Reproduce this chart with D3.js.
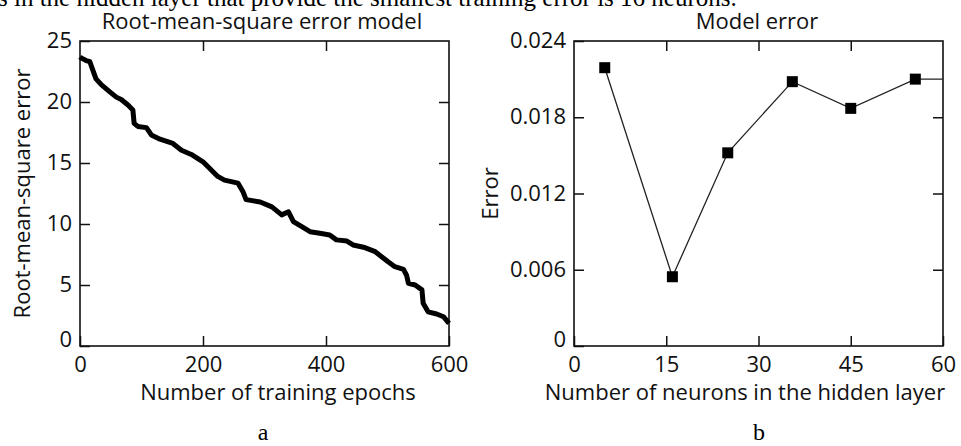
<!DOCTYPE html>
<html>
<head>
<meta charset="utf-8">
<title>RMSE and model error</title>
<script src="https://d3js.org/d3.v7.min.js"></script>
<style>
  body { margin: 0; background: #fff; }
  .lbl { font-family: "Open Sans", Lato, sans-serif; fill: #111; }
  .serif { font-family: "Liberation Serif", "Times New Roman", serif; fill: #000; }
</style>
</head>
<body>
<div id="canvas-1"></div>
<script>

// data for (a) : RMSE vs training epochs
var epochs = [0, 2, 10, 16, 21, 26, 35, 48, 59, 67, 78, 86, 88, 94, 108, 116, 130, 151, 165, 181,
  200, 211, 224, 235, 257, 265, 270, 293, 312, 328, 339, 347, 360, 374, 390, 406, 417, 434, 444, 461,
  480, 491, 501, 512, 526, 531, 534, 545, 556, 558, 566, 580, 591, 600];
var rmse = [23.7, 23.6, 23.4, 23.3, 22.6, 21.9, 21.4, 20.85, 20.4, 20.2, 19.75, 19.35, 18.25, 18.0, 17.9, 17.3, 16.95, 16.6, 16.05, 15.7,
  15.1, 14.55, 13.9, 13.6, 13.35, 12.65, 12.0, 11.8, 11.4, 10.75, 11.0, 10.2, 9.8, 9.37, 9.24, 9.1, 8.7, 8.6, 8.28, 8.1,
  7.73, 7.3, 6.9, 6.5, 6.28, 5.8, 5.14, 5.0, 4.6, 3.5, 2.8, 2.62, 2.4, 1.86];

// data for (b) : error vs neurons (last point only continues the line)
var neurons = [5, 16, 25, 35.5, 45, 55.5, 60];
var modelError = [0.0219, 0.00545, 0.0152, 0.0208, 0.0187, 0.0210, 0.0210];
var markerCount = 6;

// tick labels
var ticksA_x = [0, 200, 400, 600];
var ticksA_y = [0, 5, 10, 15, 20, 25];
var ticksB_x = [0, 15, 30, 45, 60];
var ticksB_y = [0, 0.006, 0.012, 0.018, 0.024];

var width = 961;
var height = 446;

var svg = d3.select("#canvas-1")
  .append("svg")
  .attr("width", width)
  .attr("height", height);

// cut-off sentence at the top of the page
svg.append("text")
  .attr("class", "serif")
  .attr("x", -2)
  .attr("y", 6)
  .style("font-size", "25px")
  .text("s in the hidden layer that provide the smallest training error is 16 neurons.");

var plotTop = 41, plotBottom = 346;

function drawPanel(cfg) {
  var x = d3.scaleLinear().domain(cfg.xDomain).range([cfg.left, cfg.right]);
  var y = d3.scaleLinear().domain(cfg.yDomain).range([plotBottom, plotTop]);
  var g = svg.append("g");

  // bottom axis with labels, inward ticks
  g.append("g")
    .attr("transform", `translate(0,${plotBottom})`)
    .call(d3.axisBottom(x).tickValues(cfg.xTicks).tickSize(-10).tickPadding(10).tickFormat(cfg.xFmt))
    .call(a => a.select(".domain").remove())
    .call(a => a.selectAll("text").attr("class", "lbl").style("font-size", "22px").attr("fill", null));
  // left axis with labels
  g.append("g")
    .attr("transform", `translate(${cfg.left},0)`)
    .call(d3.axisLeft(y).tickValues(cfg.yTicks).tickSize(-10).tickPadding(8).tickFormat(cfg.yFmt))
    .call(a => a.select(".domain").remove())
    .call(a => a.selectAll("text").attr("class", "lbl").style("font-size", "22px").attr("fill", null)
      .attr("dy", (d, i) => i === 0 ? "0" : "0.3em"));
  // mirrored ticks (top / right), no labels
  g.append("g")
    .attr("transform", `translate(0,${plotTop})`)
    .call(d3.axisTop(x).tickValues(cfg.xTicks.slice(1, -1)).tickSize(-10).tickFormat(""))
    .call(a => a.select(".domain").remove());
  g.append("g")
    .attr("transform", `translate(${cfg.right},0)`)
    .call(d3.axisRight(y).tickValues(cfg.yTicks.slice(1, -1)).tickSize(-10).tickFormat(""))
    .call(a => a.select(".domain").remove());
  g.selectAll(".tick line").attr("stroke", "#111").attr("stroke-width", 1.5);

  // frame
  g.append("rect")
    .attr("x", cfg.left).attr("y", plotTop)
    .attr("width", cfg.right - cfg.left).attr("height", plotBottom - plotTop)
    .attr("fill", "none").attr("stroke", "#111").attr("stroke-width", 1.6);

  // titles
  g.append("text").attr("class", "lbl")
    .attr("x", cfg.titleX).attr("y", 29).attr("text-anchor", "middle")
    .style("font-size", "22px").text(cfg.title);
  g.append("text").attr("class", "lbl")
    .attr("x", cfg.xLabelX).attr("y", 400).attr("text-anchor", "middle")
    .style("font-size", "22px").text(cfg.xLabel);
  g.append("text").attr("class", "lbl")
    .attr("transform", `translate(${cfg.yLabelX},${(plotTop + plotBottom) / 2}) rotate(-90)`)
    .attr("text-anchor", "middle").attr("dy", "0.35em")
    .style("font-size", "22px").text(cfg.yLabel);
  g.append("text").attr("class", "serif")
    .attr("x", cfg.tagX).attr("y", 440).attr("text-anchor", "middle")
    .style("font-size", "24px").text(cfg.tag);

  return { x: x, y: y, g: g };
}

// (a)
var pa = drawPanel({
  left: 80, right: 449,
  xDomain: [0, 600], yDomain: [0, 25],
  xTicks: ticksA_x, yTicks: ticksA_y,
  xFmt: d3.format("d"), yFmt: d3.format("d"),
  title: "Root-mean-square error model", titleX: 262,
  xLabel: "Number of training epochs", xLabelX: 278,
  yLabel: "Root-mean-square error", yLabelX: 22,
  tag: "a", tagX: 263
});

var lineA = d3.line()
  .x((d, i) => pa.x(epochs[i]))
  .y(d => pa.y(d));
pa.g.append("path")
  .datum(rmse)
  .attr("d", lineA)
  .attr("fill", "none")
  .attr("stroke", "#000")
  .attr("stroke-width", 5)
  .attr("stroke-linejoin", "round");

// (b)
var pb = drawPanel({
  left: 574, right: 943,
  xDomain: [0, 60], yDomain: [0, 0.024],
  xTicks: ticksB_x, yTicks: ticksB_y,
  xFmt: d3.format("d"), yFmt: d => d === 0 ? "0" : d3.format(".3f")(d),
  title: "Model error", titleX: 757,
  xLabel: "Number of neurons in the hidden layer", xLabelX: 745,
  yLabel: "Error", yLabelX: 490,
  tag: "b", tagX: 759
});

var lineB = d3.line()
  .x((d, i) => pb.x(neurons[i]))
  .y(d => pb.y(d));
pb.g.append("path")
  .datum(modelError)
  .attr("d", lineB)
  .attr("fill", "none")
  .attr("stroke", "#222")
  .attr("stroke-width", 1.3);

var ms = 11;
pb.g.selectAll(".marker")
  .data(modelError.slice(0, markerCount))
  .enter()
  .append("rect")
  .attr("class", "marker")
  .attr("x", (d, i) => pb.x(neurons[i]) - ms / 2)
  .attr("y", d => pb.y(d) - ms / 2)
  .attr("width", ms)
  .attr("height", ms)
  .attr("fill", "#000");

</script>
</body>
</html>
